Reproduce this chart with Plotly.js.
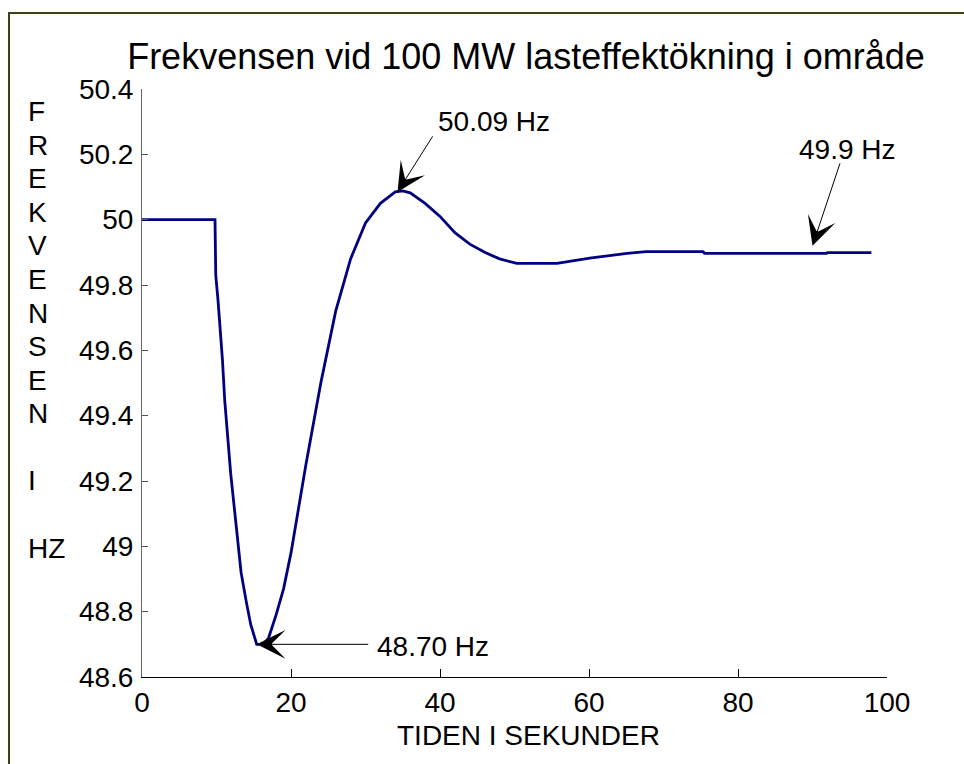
<!DOCTYPE html>
<html><head><meta charset="utf-8">
<script src="https://cdn.plot.ly/plotly-3.0.1.min.js"></script>
<style>html,body{margin:0;padding:0;background:#fff}#chart{width:964px;height:764px}</style>
</head><body><div id="chart"></div>
<script>
// ---- data ----
const timeSec = [0, 9.8, 9.9, 10.2, 10.8, 11.1, 11.9, 12.7, 13.3, 14.0, 14.6, 15.4, 16.3, 17.0, 18.0, 19.0, 20.0, 22.0, 24.0, 26.0, 28.0, 30.0, 32.0, 34.0, 35.0, 36.0, 38.0, 40.0, 42.0, 44.0, 46.0, 48.0, 50.3, 55.7, 60.1, 65.1, 67.7, 75.3, 75.5, 91.9, 92.0, 97.9];
const freqHz  = [50.0, 50.0, 49.83, 49.754, 49.57, 49.448, 49.224, 49.041, 48.92, 48.83, 48.76, 48.70, 48.70, 48.72, 48.79, 48.87, 48.98, 49.25, 49.50, 49.72, 49.88, 49.99, 50.05, 50.085, 50.088, 50.082, 50.05, 50.01, 49.96, 49.925, 49.90, 49.88, 49.866, 49.866, 49.882, 49.897, 49.902, 49.902, 49.897, 49.897, 49.899, 49.899];
const xTickVals = [0, 20, 40, 60, 80, 100];
const xTickText = ['0', '20', '40', '60', '80', '100'];
const yTickVals = [48.6, 48.8, 49, 49.2, 49.4, 49.6, 49.8, 50, 50.2, 50.4];
const yTickText = ['48.6', '48.8', '49', '49.2', '49.4', '49.6', '49.8', '50', '50.2', '50.4'];
const titleText = 'Frekvensen vid 100 MW lasteffektökning i område';
const xLabel = 'TIDEN I SEKUNDER';
const yLabelLines = ['F', 'R', 'E', 'K', 'V', 'E', 'N', 'S', 'E', 'N', '', 'I', '', 'HZ'];
const noteLabels = ['50.09 Hz', '48.70 Hz', '49.9 Hz'];
const noteX = [34.3, 15.4, 90];
const noteY = [50.085, 48.70, 49.92];

// ---- geometry / styles ----
const W = 964, H = 764, L = 142, R = 77, T = 89, B = 87;
const PW = W - L - R, PH = H - T - B;
const px = v => (v - L) / PW;
const py = v => (H - B - v) / PH;
const FONT = 'Liberation Sans, Arial, Helvetica, sans-serif';
const arrowOffsets = [[36, -57], [113, 0], [28, -84]];
const textShifts = [[38, 70], [118, -2], [-16, 96]];

const annotations = [];
noteLabels.forEach((lab, i) => {
  annotations.push({
    x: noteX[i], y: noteY[i], xref: 'x', yref: 'y', text: '',
    showarrow: true, arrowhead: 3, arrowsize: 4.8, arrowwidth: 1, arrowcolor: '#000',
    ax: arrowOffsets[i][0], ay: arrowOffsets[i][1], standoff: 0
  });
  annotations.push({
    x: noteX[i], y: noteY[i], xref: 'x', yref: 'y', text: lab, showarrow: false,
    xanchor: 'left', yanchor: 'middle', xshift: textShifts[i][0], yshift: textShifts[i][1],
    font: {family: FONT, size: 28, color: '#000'}
  });
});
yLabelLines.forEach((s, i) => {
  if (!s) return;
  annotations.push({
    xref: 'paper', yref: 'paper', x: px(26), y: py(111.6 + 33.57 * i),
    xanchor: 'left', yanchor: 'middle', text: s, showarrow: false,
    font: {family: FONT, size: 28, color: '#000'}
  });
});
annotations.push({
  xref: 'paper', yref: 'paper', x: px(528.5), y: py(735), xanchor: 'center', yanchor: 'middle',
  text: xLabel, showarrow: false, font: {family: FONT, size: 28, color: '#000'}
});

const trace = {
  x: timeSec, y: freqHz, type: 'scatter', mode: 'lines',
  line: {color: '#000080', width: 2.8}, hoverinfo: 'skip'
};

const layout = {
  width: W, height: H,
  margin: {l: L, r: R, t: T, b: B, pad: 0},
  paper_bgcolor: '#fff', plot_bgcolor: '#fff',
  showlegend: false,
  title: {
    text: titleText, font: {family: FONT, size: 36, color: '#000'},
    xref: 'container', yref: 'container', x: 526 / W, y: 1 - 56 / H,
    xanchor: 'center', yanchor: 'middle'
  },
  xaxis: {
    range: [0, 100], tickvals: xTickVals, ticktext: xTickText,
    ticks: 'inside', ticklen: 8, tickwidth: 1, tickcolor: '#000',
    showline: true, linecolor: '#000', linewidth: 1, mirror: false,
    showgrid: false, zeroline: false,
    tickfont: {family: FONT, size: 28, color: '#000'}, ticklabelstandoff: 0
  },
  yaxis: {
    range: [48.6, 50.4], tickvals: yTickVals, ticktext: yTickText,
    ticks: 'inside', ticklen: 6, tickwidth: 1, tickcolor: '#555',
    showline: true, linecolor: '#666', linewidth: 1, mirror: false,
    showgrid: false, zeroline: false,
    tickfont: {family: FONT, size: 28, color: '#000'}, ticklabelstandoff: 2
  },
  shapes: [{
    type: 'rect', xref: 'paper', yref: 'paper', layer: 'above',
    x0: px(9), x1: px(1100), y0: py(13), y1: py(900),
    line: {color: '#404018', width: 2}, fillcolor: 'rgba(0,0,0,0)'
  }],
  annotations: annotations
};

Plotly.newPlot('chart', [trace], layout, {staticPlot: true, displayModeBar: false});
</script>
</body></html>
